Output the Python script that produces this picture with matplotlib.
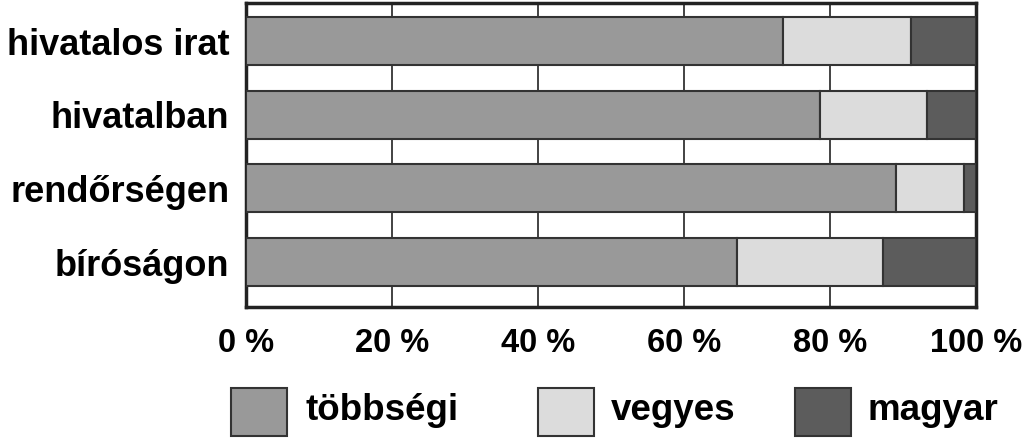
import matplotlib
matplotlib.use("Agg")
import matplotlib.pyplot as plt
from matplotlib.patches import Rectangle
import numpy as np

categories = ["hivatalos irat", "hivatalban", "rendőrségen", "bíróságon"]
tobbsegi = [73.5, 78.6, 89.1, 67.2]
vegyes = [17.6, 14.7, 9.2, 20.1]
magyar = [8.9, 6.7, 1.7, 12.7]
series_names = ["többségi", "vegyes", "magyar"]
colors = ["#999999", "#dcdcdc", "#5c5c5c"]
xticks = [0, 20, 40, 60, 80, 100]
xtick_labels = ["0 %", "20 %", "40 %", "60 %", "80 %", "100 %"]

plt.rcParams['font.family'] = ['Liberation Sans', 'DejaVu Sans']

fig = plt.figure(figsize=(10.24, 4.38), dpi=100)
ax = fig.add_axes([246/1024, 1-307/438, 730/1024, 304/438])

y = np.arange(len(categories))
left = np.zeros(len(categories))
for vals, c in zip([tobbsegi, vegyes, magyar], colors):
    ax.barh(y, vals, left=left, height=0.65, color=c, edgecolor="#333333",
            linewidth=1.5, zorder=3)
    left += np.array(vals)

ax.set_xlim(0, 100)
ax.set_ylim(3.61, -0.516)
ax.set_xticks(xticks)
ax.set_xticklabels(xtick_labels, fontsize=23.5, fontweight="bold")
ax.set_yticks(y)
ax.set_yticklabels(categories, fontsize=26, fontweight="bold")
ax.tick_params(axis="both", length=0)
ax.tick_params(axis="x", pad=15)
ax.tick_params(axis="y", pad=12)
ax.xaxis.grid(True, color="#222222", linewidth=1.2, zorder=0)
ax.set_axisbelow(True)
for s in ax.spines.values():
    s.set_linewidth(2.5)
    s.set_color("#222222")

# legend
leg_items = [(231, 306), (538, 611), (795, 868)]
for (sx, tx), name, c in zip(leg_items, series_names, colors):
    fig.patches.append(Rectangle((sx/1024, 1-436/438), 56/1024, 48/438,
                                 transform=fig.transFigure, facecolor=c,
                                 edgecolor="#333333", linewidth=1.5))
    fig.text(tx/1024, 1-410/438, name, fontsize=26.5, fontweight="bold",
             ha="left", va="center")

fig.savefig("out.png", dpi=100)
